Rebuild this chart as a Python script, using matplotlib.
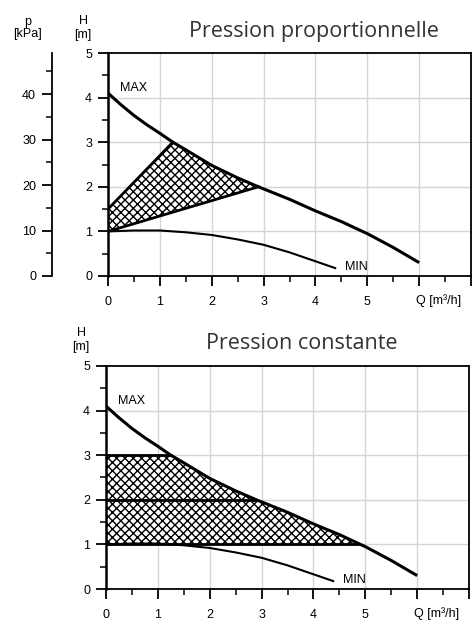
import numpy as np
import matplotlib
matplotlib.use("Agg")
import matplotlib.pyplot as plt
import matplotlib.transforms as mtransforms
from matplotlib.ticker import MultipleLocator, FixedLocator

# ---- data ----
max_q = [0, 0.25, 0.5, 0.75, 1, 1.25, 1.5, 2, 2.5, 2.9, 3.5, 4, 4.5, 4.85, 5, 5.5, 6]
max_h = [4.1, 3.84, 3.6, 3.39, 3.2, 3.0, 2.83, 2.48, 2.2, 2.0, 1.72, 1.46, 1.22, 1.03, 0.95, 0.64, 0.3]
min_q = [0, 0.5, 1, 1.5, 2, 2.5, 3, 3.5, 4, 4.4]
min_h = [1.0, 1.02, 1.02, 0.98, 0.92, 0.82, 0.7, 0.53, 0.33, 0.17]

# proportional pressure band: lower line and upper line corner points
prop_low_q = [0, 2.9]
prop_low_h = [1.0, 2.0]
prop_up_q = [0, 1.25]
prop_up_h = [1.5, 3.0]

# constant pressure levels and where they meet MAX
const_h = [1, 2, 3]
const_q_end = [4.85, 2.9, 1.25]

x_ticks = [0, 1, 2, 3, 4, 5]
y_ticks = [0, 1, 2, 3, 4, 5]
p_ticks = [0, 10, 20, 30, 40]

TITLE_FONT = ["Open Sans", "DejaVu Sans"]
TICK_FONT = ["Liberation Sans", "DejaVu Sans"]
FS = 9

fig = plt.figure(figsize=(4.73, 6.22), dpi=100)
W, H = 473, 622

def make_axes(l, r, t, b):
    return fig.add_axes([l / W, 1 - b / H, (r - l) / W, (b - t) / H])

ax1 = make_axes(108, 471, 53, 276)
ax2 = make_axes(106, 469, 366, 589)

def style(ax):
    ax.set_xlim(0, 7)
    ax.set_ylim(0, 5)
    ax.xaxis.set_major_locator(FixedLocator(list(range(0, 8))))
    ax.xaxis.set_minor_locator(MultipleLocator(0.5))
    ax.yaxis.set_major_locator(FixedLocator(y_ticks))
    ax.yaxis.set_minor_locator(MultipleLocator(0.5))
    ax.set_xticklabels([str(v) for v in x_ticks] + ["", ""], family=TICK_FONT, fontsize=FS)
    ax.set_yticklabels([str(v) for v in y_ticks], family=TICK_FONT, fontsize=FS)
    ax.tick_params(which="major", length=7.5, width=1.3, direction="out")
    ax.tick_params(which="minor", length=4.5, width=1.1, direction="out")
    ax.tick_params(axis="x", which="major", pad=7)
    ax.tick_params(axis="y", which="major", pad=4)
    for x in range(1, 7):
        ax.axvline(x, color="#d4d4d4", lw=1.0, zorder=0)
    for y in range(1, 5):
        ax.axhline(y, color="#d4d4d4", lw=1.0, zorder=0)
    for s in ["top", "right", "bottom"]:
        ax.spines[s].set_linewidth(1.3)
    ax.spines["left"].set_linewidth(1.8)
    ax.plot(max_q, max_h, color="black", lw=2.2, zorder=4, solid_capstyle="butt")
    ax.plot(min_q, min_h, color="black", lw=1.5, zorder=4, solid_capstyle="butt")
    ax.text(0.23, 4.22, "MAX", family=TICK_FONT, fontsize=9, va="center", ha="left")
    ax.text(4.57, 0.2, "MIN", family=TICK_FONT, fontsize=9, va="center", ha="left")
    off = mtransforms.ScaledTranslation(0, -25 / 100, fig.dpi_scale_trans)
    ax.text(5.93, 0, "Q [m³/h]", family=TICK_FONT, fontsize=FS, ha="left", va="center",
            transform=ax.transData + off, clip_on=False)

# ---- top chart ----
style(ax1)
mq = np.array(max_q); mh = np.array(max_h)
sel = (mq >= prop_up_q[1]) & (mq <= prop_low_q[1])
poly_q = [prop_low_q[0], prop_up_q[0]] + list(mq[sel]) + [prop_low_q[0]]
poly_h = [prop_low_h[0], prop_up_h[0]] + list(mh[sel]) + [prop_low_h[0]]
ax1.fill(poly_q, poly_h, facecolor="white", edgecolor="black", hatch="xxxx", lw=0, zorder=2)
ax1.plot(prop_low_q, prop_low_h, color="black", lw=2.0, zorder=3)
ax1.plot(prop_up_q, prop_up_h, color="black", lw=2.0, zorder=3)
ax1.text(0.5 + 24 / 363, 1.0 + 22 / 223, "Pression proportionnelle", transform=ax1.transAxes,
         family=TITLE_FONT, fontsize=15.5, color="#333333", ha="center", va="center")
ax1.text(-25 / 363, 1.0 + 25 / 223, "H\n[m]", transform=ax1.transAxes, family=TICK_FONT,
         fontsize=FS, ha="center", va="center", linespacing=1.15)

sec = ax1.secondary_yaxis(-56 / 363, functions=(lambda h: h * 9.81, lambda p: p / 9.81))
sec.set_yticks(p_ticks)
sec.set_yticklabels([str(v) for v in p_ticks], family=TICK_FONT, fontsize=FS)
sec.yaxis.set_minor_locator(MultipleLocator(5))
sec.tick_params(which="major", length=7.5, width=1.3, pad=4)
sec.tick_params(which="minor", length=4.5, width=1.1)
sec.spines["left"].set_linewidth(1.3)
ax1.text(-80 / 363, 1.0 + 25 / 223, "p\n[kPa]", transform=ax1.transAxes, family=TICK_FONT,
         fontsize=FS, ha="center", va="center", linespacing=1.0)

# ---- bottom chart ----
style(ax2)
top_h = const_h[-1]; bot_h = const_h[0]
sel2 = (mq >= const_q_end[-1]) & (mq <= const_q_end[0])
poly2_q = [0, 0] + list(mq[sel2]) + [const_q_end[0], 0]
poly2_h = [bot_h, top_h] + list(mh[sel2]) + [bot_h, bot_h]
ax2.fill(poly2_q, poly2_h, facecolor="white", edgecolor="black", hatch="xxxx", lw=0, zorder=2)
for hv, qe in zip(const_h, const_q_end):
    ax2.plot([0, qe], [hv, hv], color="black", lw=2.0, zorder=3)
ax2.text(0.5 + 14 / 363, 1.0 + 22 / 223, "Pression constante", transform=ax2.transAxes,
         family=TITLE_FONT, fontsize=15.5, color="#333333", ha="center", va="center")
ax2.text(-25 / 363, 1.0 + 26 / 223, "H\n[m]", transform=ax2.transAxes, family=TICK_FONT,
         fontsize=FS, ha="center", va="center", linespacing=1.15)

fig.savefig("out.png", dpi=100)
